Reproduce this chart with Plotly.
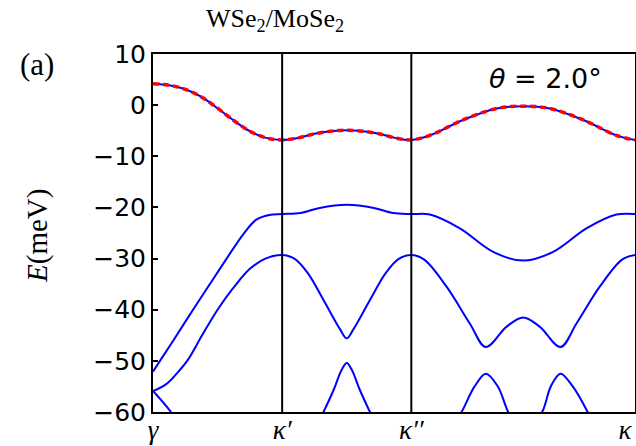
import plotly.graph_objects as go

# k-path positions of the high-symmetry points
tick_pos = [0.0, 1.0, 2.0, 3.732]
tick_text = ["<i>γ</i>", "<i>κ′</i>", "<i>κ′′</i>", "<i>κ</i>\u00a0\u00a0\u00a0"]
y_ticks = [10, 0, -10, -20, -30, -40, -50, -60]

# Band 1 (top band, blue solid + red dashed)
k1 = [0, 0.125, 0.25, 0.375, 0.5, 0.625, 0.75, 0.875, 1.0, 1.125, 1.25, 1.375, 1.5,
      1.625, 1.75, 1.875, 2.0, 2.144, 2.40, 2.66, 2.866, 3.072, 3.332, 3.588, 3.732]
E1 = [4.2, 3.9, 3.1, 1.6, -0.6, -3.0, -5.1, -6.4, -6.8, -6.4, -5.6, -5.1, -4.9,
      -5.1, -5.6, -6.4, -6.8, -5.9, -2.9, -0.65, -0.2, -0.65, -2.9, -5.9, -6.8]

# Band 2
k2 = [0, 0.054, 0.15, 0.31, 0.44, 0.57, 0.70, 0.80, 0.9, 1.0, 1.14, 1.29, 1.5, 1.71,
      1.86, 2.0, 2.144, 2.376, 2.634, 2.866, 3.098, 3.356, 3.588, 3.732]
E2 = [-52.1, -50.0, -46.3, -40.0, -35.0, -30.0, -25.2, -22.4, -21.5, -21.3, -21.1,
      -20.1, -19.5, -20.1, -21.1, -21.3, -21.4, -24.1, -28.7, -30.4, -28.7, -24.1,
      -21.4, -21.3]

# Band 3
k3 = [0, 0.1, 0.2, 0.27, 0.38, 0.5, 0.62, 0.75, 0.87, 1.0, 1.1, 1.2, 1.32, 1.45, 1.5,
      1.55, 1.68, 1.8, 1.9, 2.0, 2.1, 2.273, 2.453, 2.577, 2.738, 2.866, 2.994, 3.155,
      3.279, 3.459, 3.632, 3.732]
E3 = [-55.9, -54.6, -52.0, -49.8, -45.0, -40.0, -35.8, -32.0, -30.0, -29.3, -30.1,
      -32.9, -38.1, -43.9, -45.6, -43.9, -38.1, -32.9, -30.1, -29.3, -30.2, -35.5,
      -42.7, -47.3, -43.3, -41.5, -43.3, -47.3, -42.7, -35.5, -30.2, -29.3]

# Band 4 (mostly below the visible window)
k4 = [0, 0.139, 0.3, 0.6, 1.0, 1.2, 1.32, 1.4, 1.46, 1.5, 1.54, 1.6, 1.68, 1.8, 2.0,
      2.2, 2.389, 2.49, 2.577, 2.67, 2.75, 2.866, 3.013, 3.08, 3.155, 3.25, 3.365,
      3.55, 3.732]
E4 = [-55.9, -60.0, -66, -72, -75, -66, -60, -55.6, -51.8, -50.4, -51.8, -55.6, -60,
      -66, -72, -68, -60, -55.0, -52.5, -55.0, -60, -65, -60, -55.0, -52.5, -55.0,
      -60, -70, -75]

BLUE = "#0000ff"
RED = "#ff0000"

fig = go.Figure()
for kk, ee in [(k4, E4), (k3, E3), (k2, E2), (k1, E1)]:
    fig.add_trace(go.Scatter(x=kk, y=ee, mode="lines",
                             line=dict(color=BLUE, width=2, shape="spline", smoothing=1.0),
                             showlegend=False, hoverinfo="skip"))
fig.add_trace(go.Scatter(x=k1, y=E1, mode="lines",
                         line=dict(color=RED, width=3.5, dash="6px,4px",
                                   shape="spline", smoothing=1.0),
                         showlegend=False, hoverinfo="skip"))

for xv in tick_pos[1:3]:
    fig.add_shape(type="line", xref="x", yref="paper", x0=xv, x1=xv, y0=0, y1=1,
                  line=dict(color="black", width=2), layer="above")

W, H = 636, 446
L, R, T, B = 153, 1, 54, 34
pw, ph = W - L - R, H - T - B

def px(xp):
    return (xp - L) / pw

def py(yp):
    return (H - B - yp) / ph

fig.update_layout(
    width=W, height=H,
    margin=dict(l=L, r=R, t=T, b=B, pad=0, autoexpand=False),
    paper_bgcolor="white", plot_bgcolor="white",
    xaxis=dict(range=[tick_pos[0], tick_pos[-1]], tickmode="array",
               tickvals=tick_pos, ticktext=tick_text, ticks="",
               showgrid=False, zeroline=False, showline=True, mirror=True,
               linecolor="black", linewidth=2, automargin=False,
               ticklabeloverflow="allow", ticklabelstandoff=-7,
               tickfont=dict(family="Liberation Serif", size=27, color="black")),
    yaxis=dict(range=[-60, 10], tickmode="array", tickvals=y_ticks,
               ticks="inside", ticklen=5, tickwidth=2, tickcolor="black",
               showgrid=False, zeroline=False, showline=True, mirror=True,
               linecolor="black", linewidth=2, automargin=False,
               ticklabeloverflow="allow",
               tickfont=dict(family="DejaVu Sans", size=25, color="black")),
    annotations=[
        dict(text="WSe<sub>2</sub>/MoSe<sub>2</sub>", xref="paper", yref="paper",
             x=px(275), y=py(20), xanchor="center", yanchor="middle", showarrow=False,
             font=dict(family="Liberation Serif", size=26, color="black")),
        dict(text="(a)", xref="paper", yref="paper",
             x=px(37), y=py(64), xanchor="center", yanchor="middle", showarrow=False,
             font=dict(family="Liberation Serif", size=31, color="black")),
        dict(text="<i>θ</i> = 2.0°", xref="paper", yref="paper",
             x=px(545), y=py(79), xanchor="center", yanchor="middle", showarrow=False,
             font=dict(family="DejaVu Sans", size=27, color="black")),
        dict(text="<i>E</i>(meV)", xref="paper", yref="paper", textangle=-90,
             x=px(37), y=py(236), xanchor="center", yanchor="middle", showarrow=False,
             font=dict(family="Liberation Serif", size=29, color="black")),
    ],
)

fig.write_html("out.html")
